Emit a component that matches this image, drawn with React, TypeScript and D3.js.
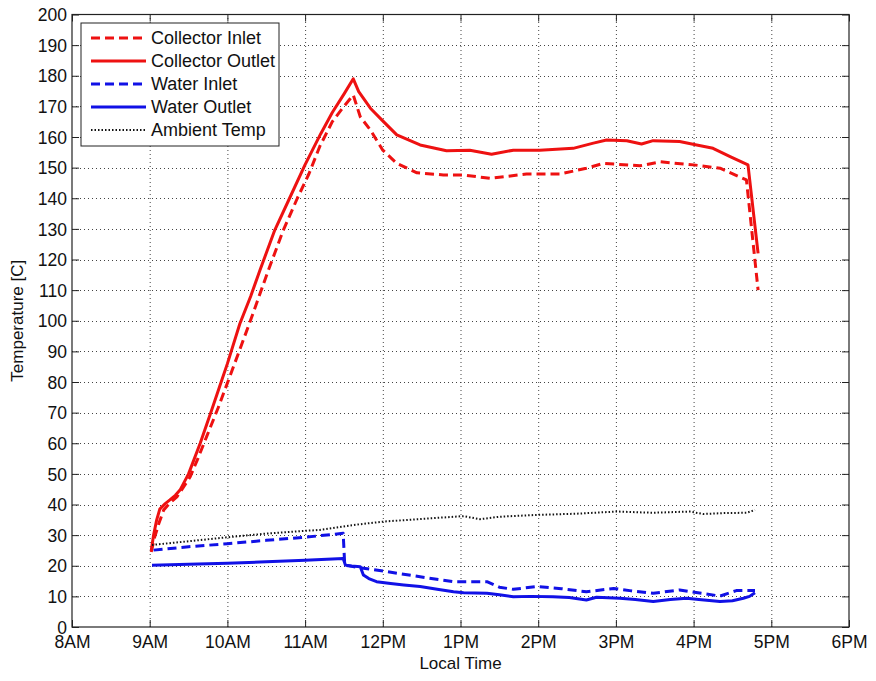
import React, { useEffect, useRef } from 'react';
import * as d3 from 'd3';

// time in decimal hours, temperature in C
const hourTicks = [8, 9, 10, 11, 12, 13, 14, 15, 16, 17, 18];
const hourLabels = ['8AM', '9AM', '10AM', '11AM', '12PM', '1PM', '2PM', '3PM', '4PM', '5PM', '6PM'];

const collectorOutletTime = [9.02, 9.05, 9.09, 9.13, 9.2, 9.26, 9.33, 9.39, 9.5, 9.65, 9.8, 9.9, 10.0, 10.16, 10.3, 10.42, 10.61, 10.8, 11.0, 11.2, 11.35, 11.5, 11.62, 11.69, 11.84, 11.99, 12.18, 12.48, 12.82, 13.12, 13.4, 13.68, 14.02, 14.45, 14.71, 14.88, 15.14, 15.33, 15.48, 15.82, 16.04, 16.25, 16.47, 16.7, 16.83];
const collectorOutletTemp = [25, 30, 35, 38.5, 40.3, 41.5, 43, 44.7, 50, 60, 71, 78.5, 86, 99, 108, 116.6, 129.6, 140, 151, 161, 168, 174, 179, 174.8, 169.4, 165.5, 160.7, 157.4, 155.5, 155.7, 154.4, 155.7, 155.7, 156.3, 158, 159, 158.8, 157.7, 158.8, 158.5, 157.4, 156.3, 153.6, 150.9, 122];

const collectorInletTime = [9.02, 9.06, 9.12, 9.18, 9.26, 9.35, 9.43, 9.52, 9.62, 9.73, 9.88, 10.03, 10.18, 10.33, 10.52, 10.72, 10.9, 11.05, 11.19, 11.35, 11.5, 11.62, 11.71, 11.84, 12.0, 12.18, 12.44, 12.78, 13.04, 13.38, 13.85, 14.28, 14.62, 14.84, 15.31, 15.57, 16.0, 16.34, 16.68, 16.83];
const collectorInletTemp = [24.5, 29, 34, 38.2, 40.5, 42.5, 45.5, 49, 55, 62, 71.5, 81.7, 92, 102.4, 116, 129.6, 140, 148, 157, 165, 170, 173.7, 166.6, 162.3, 155.7, 151.4, 148.3, 147.6, 147.6, 146.5, 147.9, 147.9, 149.8, 151.4, 150.6, 151.9, 150.9, 149.8, 146, 110];

const waterInletTime = [9.05, 9.5, 10.0, 10.5, 11.0, 11.49, 11.51, 11.6, 11.75, 12.05, 12.48, 12.91, 13.34, 13.5, 13.68, 13.98, 14.3, 14.62, 14.97, 15.2, 15.48, 15.82, 16.1, 16.34, 16.55, 16.79];
const waterInletTemp = [25.1, 26.2, 27.2, 28.3, 29.3, 30.6, 20.2, 19.8, 19.2, 18.1, 16.4, 14.8, 14.8, 13.0, 12.3, 13.2, 12.5, 11.5, 12.6, 11.8, 11.0, 12.1, 11.0, 10.1, 11.9, 11.9];

const waterOutletTime = [9.03, 9.5, 10.0, 10.5, 11.0, 11.49, 11.52, 11.6, 11.71, 11.75, 11.82, 11.92, 12.1, 12.27, 12.48, 12.7, 12.91, 13.04, 13.34, 13.5, 13.68, 13.9, 14.19, 14.4, 14.62, 14.75, 15.05, 15.25, 15.48, 15.7, 15.91, 16.1, 16.34, 16.5, 16.64, 16.72, 16.79];
const waterOutletTemp = [20.2, 20.5, 20.8, 21.3, 21.8, 22.4, 20.2, 19.9, 19.7, 17, 15.8, 14.8, 14.2, 13.7, 13.2, 12.3, 11.5, 11.2, 11.0, 10.5, 9.9, 10.0, 9.9, 9.6, 8.8, 9.7, 9.4, 9.0, 8.3, 9.0, 9.4, 8.9, 8.3, 8.6, 9.4, 10.0, 11.2];

const ambientTime = [9.03, 9.5, 10.0, 10.5, 11.0, 11.19, 11.62, 12.0, 12.5, 13.04, 13.25, 13.5, 13.98, 14.5, 15.01, 15.48, 15.95, 16.12, 16.4, 16.68, 16.79];
const ambientTemp = [26.8, 28.0, 29.3, 30.5, 31.4, 31.7, 33.3, 34.4, 35.3, 36.2, 35.2, 36.0, 36.6, 37.0, 37.7, 37.3, 37.7, 36.9, 37.2, 37.3, 38.2];

const seriesNames = ['Collector Inlet', 'Collector Outlet', 'Water Inlet', 'Water Outlet', 'Ambient Temp'];

const RED = '#ee1111';
const BLUE = '#1111e6';

const App = () => {
  const svgRef = useRef(null);
  const width = 876;
  const height = 681;
  const margin = { left: 72, right: 27, top: 14.5, bottom: 54 };
  const font = '"Liberation Sans", Arial, sans-serif';

  useEffect(() => {
    const svg = d3.select(svgRef.current);
    svg.selectAll('*').remove();

    const x = d3.scaleLinear().domain([8, 18]).range([margin.left, width - margin.right]);
    const y = d3.scaleLinear().domain([0, 200]).range([height - margin.bottom, margin.top]);
    const yTicks = d3.range(0, 201, 10);
    const [x0, x1] = x.range();
    const [y0, y1] = y.range();

    svg.append('rect').attr('width', width).attr('height', height).attr('fill', '#fff');

    // grid
    const grid = svg.append('g').attr('stroke', '#444').attr('stroke-width', 1).attr('stroke-dasharray', '1,3');
    grid.selectAll('.gx').data(hourTicks.slice(1, -1)).join('line')
      .attr('x1', d => x(d) + 0.5).attr('x2', d => x(d) + 0.5).attr('y1', y0).attr('y2', y1);
    grid.selectAll('.gy').data(yTicks.slice(1, -1)).join('line')
      .attr('y1', d => Math.round(y(d)) + 0.5).attr('y2', d => Math.round(y(d)) + 0.5).attr('x1', x0).attr('x2', x1);

    // series
    const line = d3.line().x(d => x(d[0])).y(d => y(d[1]));
    const series = [
      { t: collectorInletTime, v: collectorInletTemp, color: RED, dash: '9,5', w: 3 },
      { t: collectorOutletTime, v: collectorOutletTemp, color: RED, dash: null, w: 3 },
      { t: waterInletTime, v: waterInletTemp, color: BLUE, dash: '9,5', w: 3 },
      { t: waterOutletTime, v: waterOutletTemp, color: BLUE, dash: null, w: 3 },
      { t: ambientTime, v: ambientTemp, color: '#111', dash: '1.5,2', w: 2 },
    ];
    series.forEach(s => {
      svg.append('path')
        .datum(s.t.map((t, i) => [t, s.v[i]]))
        .attr('d', line)
        .attr('fill', 'none')
        .attr('stroke', s.color)
        .attr('stroke-width', s.w)
        .attr('stroke-dasharray', s.dash)
        .attr('stroke-linejoin', 'round');
    });

    // axes (MATLAB style: inward ticks on all sides)
    const tickLen = 7;
    const xAxis = d3.axisBottom(x).tickValues(hourTicks).tickFormat((d, i) => hourLabels[i]).tickSizeInner(-tickLen).tickSizeOuter(0).tickPadding(9);
    const yAxis = d3.axisLeft(y).tickValues(yTicks).tickSizeInner(-tickLen).tickSizeOuter(0).tickPadding(5);
    const gx = svg.append('g').attr('transform', `translate(0,${y0})`).call(xAxis);
    const gy = svg.append('g').attr('transform', `translate(${x0},0)`).call(yAxis);
    svg.append('g').attr('transform', `translate(0,${y1})`).call(d3.axisTop(x).tickValues(hourTicks).tickFormat(() => '').tickSizeInner(-tickLen).tickSizeOuter(0));
    svg.append('g').attr('transform', `translate(${x1},0)`).call(d3.axisRight(y).tickValues(yTicks).tickFormat(() => '').tickSizeInner(-tickLen).tickSizeOuter(0));
    svg.selectAll('.domain').remove();
    svg.selectAll('.tick line').attr('stroke', '#222');
    [gx, gy].forEach(g => g.selectAll('text').attr('font-family', font).attr('font-size', 17.5).attr('fill', '#111'));
    gy.selectAll('text').attr('dy', '0.35em');

    svg.append('rect')
      .attr('x', x0).attr('y', y1).attr('width', x1 - x0).attr('height', y0 - y1)
      .attr('fill', 'none').attr('stroke', '#222').attr('stroke-width', 1.2);

    // labels
    svg.append('text').attr('x', (x0 + x1) / 2).attr('y', 669).attr('text-anchor', 'middle')
      .attr('font-family', font).attr('font-size', 17).attr('fill', '#111').text('Local Time');
    svg.append('text').attr('transform', `translate(23,${(y0 + y1) / 2}) rotate(-90)`).attr('text-anchor', 'middle')
      .attr('font-family', font).attr('font-size', 17).attr('fill', '#111').text('Temperature [C]');

    // legend
    const legend = svg.append('g').attr('transform', 'translate(81,23)');
    legend.append('rect').attr('width', 198).attr('height', 123).attr('fill', '#fff').attr('stroke', '#222').attr('stroke-width', 1);
    seriesNames.forEach((name, i) => {
      const s = series[i];
      const ly = 15 + i * 23;
      legend.append('line').attr('x1', 10).attr('x2', 65).attr('y1', ly).attr('y2', ly)
        .attr('stroke', s.color).attr('stroke-width', s.w).attr('stroke-dasharray', s.dash);
      legend.append('text').attr('x', 70).attr('y', ly).attr('dy', '0.35em')
        .attr('font-family', font).attr('font-size', 18).attr('fill', '#111').text(name);
    });
  }, []);

  return (
    <svg
      ref={svgRef}
      width={width}
      height={height}
      style={{ position: 'absolute', left: 0, top: 0, display: 'block' }}
    />
  );
};

export default App;
